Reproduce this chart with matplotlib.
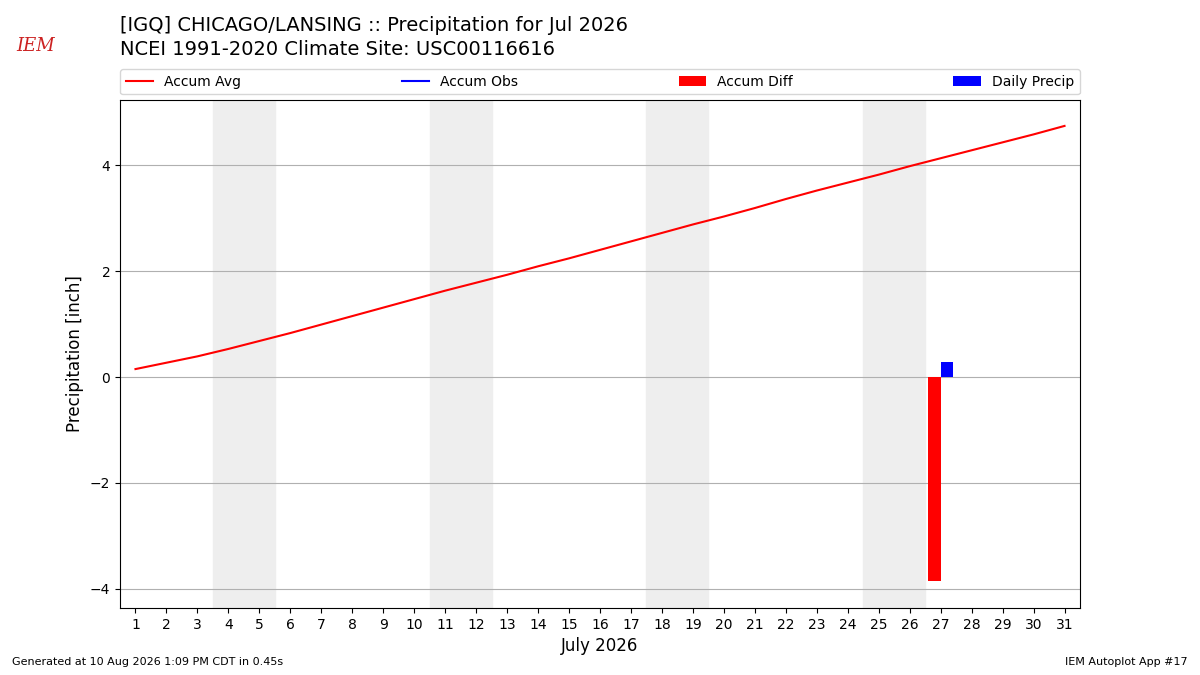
import matplotlib
matplotlib.use("Agg")
import matplotlib.pyplot as plt
import numpy as np

days = np.arange(1, 32)
accum_avg = [0.15, 0.27, 0.39, 0.53, 0.68, 0.83, 0.99, 1.15, 1.31, 1.47, 1.63, 1.78, 1.93,
             2.09, 2.24, 2.40, 2.56, 2.72, 2.88, 3.03, 3.19, 3.36, 3.52, 3.67, 3.82, 3.98,
             4.13, 4.28, 4.43, 4.58, 4.74]
obs_day = [27]
daily_precip = [0.28]
accum_diff = [-3.85]
weekends = [(3.5, 5.5), (10.5, 12.5), (17.5, 19.5), (24.5, 26.5)]

fig = plt.figure(figsize=(12, 6.75), dpi=100)
ax = fig.add_axes([0.1, 0.0993, 0.8, 0.7526])

for a, b in weekends:
    ax.axvspan(a, b, color="#eeeeee", zorder=0)

ax.plot(days, accum_avg, color="r", label="Accum Avg", zorder=3)
ax.plot([], [], color="b", label="Accum Obs")
ax.bar(np.array(obs_day) - 0.2, accum_diff, width=0.4, color="r", label="Accum Diff", zorder=3)
ax.bar(np.array(obs_day) + 0.2, daily_precip, width=0.4, color="b", label="Daily Precip", zorder=3)

ax.set_xlim(0.5, 31.5)
ax.set_ylim(-4.36, 5.23)
ax.set_xticks(days)
ax.set_yticks([-4, -2, 0, 2, 4])
ax.grid(axis="y", zorder=1)
ax.set_axisbelow(True)
ax.set_xlabel("July 2026", fontsize=12)
ax.set_ylabel("Precipitation [inch]", fontsize=12)
ax.legend(loc="lower left", bbox_to_anchor=(0, 1.011, 1, 0.05), ncol=4, mode="expand",
          borderaxespad=0, fontsize=10)

fig.text(0.1, 0.962, "[IGQ] CHICAGO/LANSING :: Precipitation for Jul 2026", fontsize=14, va="center")
fig.text(0.1, 0.927, "NCEI 1991-2020 Climate Site: USC00116616", fontsize=14, va="center")
fig.text(0.03, 0.932, "IEM", color="#cc2222", fontsize=13, style="italic", family="serif", va="center", ha="center")
fig.text(0.01, 0.015, "Generated at 10 Aug 2026 1:09 PM CDT in 0.45s", fontsize=8)
fig.text(0.99, 0.015, "IEM Autoplot App #17", fontsize=8, ha="right")

fig.savefig("out.png")
